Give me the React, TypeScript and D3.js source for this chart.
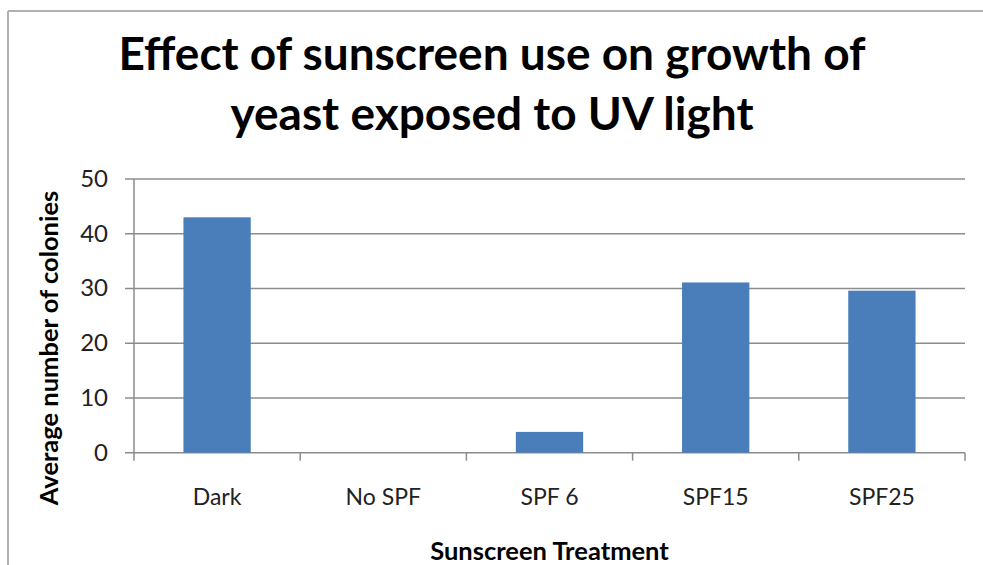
import React from "react";
import * as d3 from "d3";

const categories = ["Dark", "No SPF", "SPF 6", "SPF15", "SPF25"];
const values = [43.0, 0, 3.8, 31.1, 29.6];
const yTicks = [0, 10, 20, 30, 40, 50];
const titleLines = ["Effect of sunscreen use on growth of", "yeast exposed to UV light"];
const xTitle = "Sunscreen Treatment";
const yTitle = "Average number of colonies";

const W = 983;
const H = 565;
const plot = { left: 134, right: 965, top: 179, bottom: 452.7 };
const FONT = "Lato, 'Open Sans', 'DejaVu Sans', sans-serif";

export default function App() {
  const x = d3.scaleBand<string>().domain(categories).range([plot.left, plot.right]).paddingInner(0.595).paddingOuter(0.2975);
  const xb = d3.scaleBand<string>().domain(categories).range([plot.left, plot.right]);
  const y = d3.scaleLinear().domain([0, 50]).range([plot.bottom, plot.top]);
  const grid = "#8c8c8c";
  return (
    <svg width={W} height={H} style={{ position: "absolute", left: 0, top: 0, background: "#fff" }}>
      <rect x={0} y={0} width={W} height={H} fill="#fff" />
      <line x1={8} x2={W} y1={11} y2={11} stroke="#b0b0b0" strokeWidth={2} />
      <line x1={8} x2={8} y1={11} y2={H} stroke="#b0b0b0" strokeWidth={2} />
      {titleLines.map((t, i) => (
        <text key={i} x={492} y={70 + i * 60} textAnchor="middle" fontFamily={FONT} fontWeight="bold" fontSize={46} fill="#000">
          {t}
        </text>
      ))}
      {yTicks.map((t) => (
        <g key={t}>
          <line x1={plot.left - 9} x2={plot.right} y1={y(t)} y2={y(t)} stroke={grid} strokeWidth={1.5} />
          <text x={108} y={y(t) + 8} textAnchor="end" fontFamily={FONT} fontSize={24} fill="#222">
            {t}
          </text>
        </g>
      ))}
      <line x1={plot.left} x2={plot.left} y1={plot.top} y2={plot.bottom} stroke={grid} strokeWidth={1.5} />
      {categories.map((c, i) => (
        <line key={"t" + i} x1={xb(c)!} x2={xb(c)!} y1={plot.bottom} y2={plot.bottom + 8} stroke={grid} strokeWidth={1.5} />
      ))}
      <line x1={plot.right} x2={plot.right} y1={plot.bottom} y2={plot.bottom + 8} stroke={grid} strokeWidth={1.5} />
      {categories.map((c, i) => (
        <rect key={c} x={x(c)!} width={x.bandwidth()} y={y(values[i])} height={plot.bottom - y(values[i])} fill="#4a7ebb" />
      ))}
      {categories.map((c) => (
        <text key={"l" + c} x={xb(c)! + xb.bandwidth() / 2} y={505} textAnchor="middle" fontFamily={FONT} fontSize={23} fill="#222">
          {c}
        </text>
      ))}
      <text x={549.5} y={560} textAnchor="middle" fontFamily={FONT} fontWeight="bold" fontSize={25.5} fill="#000">
        {xTitle}
      </text>
      <text transform={`translate(58,348) rotate(-90)`} textAnchor="middle" fontFamily={FONT} fontWeight="bold" fontSize={25.5} fill="#000">
        {yTitle}
      </text>
    </svg>
  );
}
